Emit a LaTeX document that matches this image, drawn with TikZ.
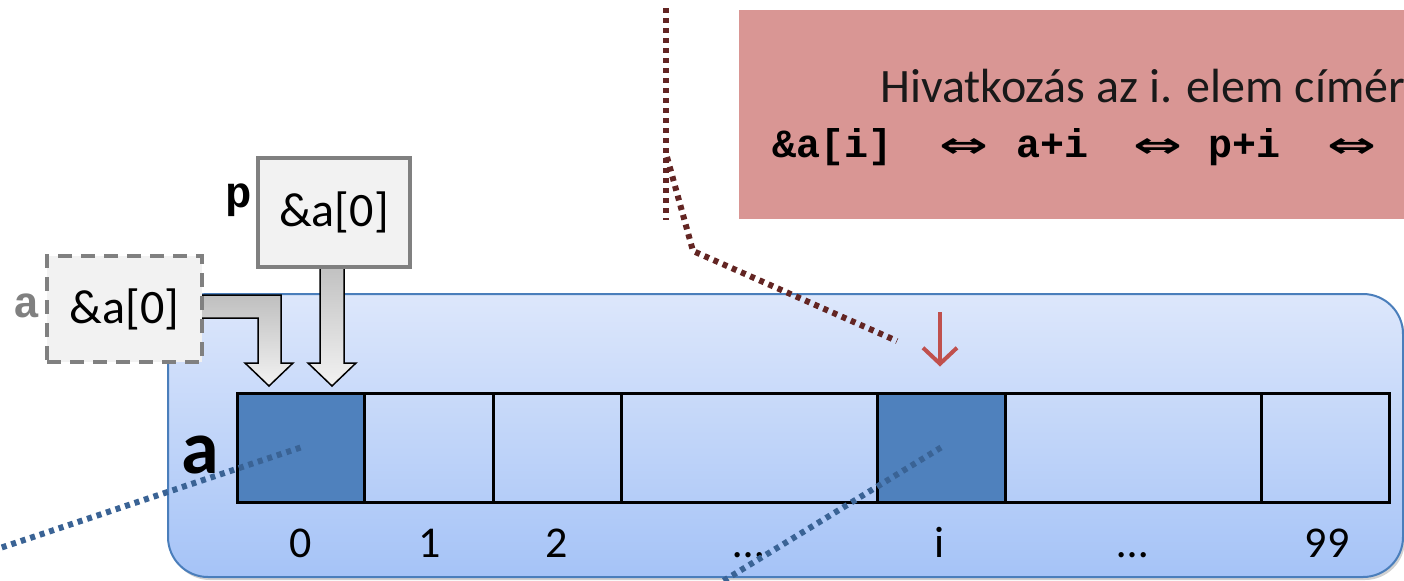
\documentclass[tikz,border=0pt]{standalone}
\usepackage{fontspec}
\usepackage{graphicx}
\setmainfont{Carlito}
\newfontfamily\lmono{Liberation Mono}
\newfontfamily\djv{DejaVu Sans}
\usetikzlibrary{arrows.meta,shadows,calc}
\definecolor{cellblue}{HTML}{4F81BD}
\definecolor{rectborder}{HTML}{4A7EBB}
\definecolor{recttop}{HTML}{DDE7FB}
\definecolor{rectbot}{HTML}{A5C3F7}
\definecolor{pinkbox}{HTML}{D99694}
\definecolor{darkred}{HTML}{632523}
\definecolor{dotblue}{HTML}{3A6395}
\definecolor{arrred}{HTML}{C0504D}
\definecolor{boxgray}{HTML}{808080}
\definecolor{boxfill}{HTML}{F2F2F2}
\newcommand\eqvsym{\resizebox{24.5pt}{9.5pt}{\djv\bfseries ⇔}}
\begin{document}
\begin{tikzpicture}[x=0.5pt,y=-0.5pt,
  cellbox/.style={draw=black, line width=1.5pt, minimum height=54.5pt, inner sep=0pt},
  idx/.style={anchor=base, inner sep=0pt, font=\fontsize{22}{26}\selectfont},
  valbox/.style={fill=boxfill, line width=2pt, inner sep=0pt, font=\fontsize{24}{28}\selectfont},
  monolab/.style={anchor=base, inner sep=0pt, font=\fontsize{22}{24}\selectfont\lmono\bfseries},
  blockarrow/.style={draw=black, line width=0.75pt, top color=gray!50, bottom color=gray!10, line join=miter},
  rdot/.style={draw=darkred, line width=3pt, dash pattern=on 2.5pt off 2.5pt},
  bdot/.style={draw=dotblue, line width=3pt, dash pattern=on 2.5pt off 2.5pt},
]
\useasboundingbox (0,0) rectangle (1404,580);

% pink note box
\node[fill=pinkbox, minimum width=340pt, minimum height=104.5pt, anchor=north west, inner sep=0pt] (note) at (739,10) {};
\node[anchor=base west, inner sep=0pt, font=\fontsize{24}{28}\selectfont, text=black!90] (l1) at (880,102) {Hivatkozás az i. elem címére};
\node[anchor=base west, inner sep=0pt, font=\fontsize{20}{24}\selectfont] (l2) at (772,157)
  {{\lmono\bfseries \&a[i]}\hspace{23.5pt}\eqvsym\hspace{14pt}{\lmono\bfseries a+i}\hspace{22.5pt}\eqvsym\hspace{13pt}{\lmono\bfseries p+i}\hspace{23.5pt}\eqvsym};

% memory area
\draw[rounded corners=20pt, top color=recttop, bottom color=rectbot, draw=rectborder, line width=1pt,
      drop shadow={shadow xshift=1pt, shadow yshift=-1.5pt, opacity=0.3, fill=black!60}]
  (168,294) rectangle (1403,577);

% cells
\node[cellbox, fill=cellblue, minimum width=63.5pt] (c0) at (300.5,447.5) {};
\node[cellbox, minimum width=64.5pt] (c1) at (428.5,447.5) {};
\node[cellbox, minimum width=64pt] (c2) at (557,447.5) {};
\node[cellbox, minimum width=128pt] (c3) at (749,447.5) {};
\node[cellbox, fill=cellblue, minimum width=64pt] (ci) at (941,447.5) {};
\node[cellbox, minimum width=128pt] (c5) at (1133,447.5) {};
\node[cellbox, minimum width=64pt] (c99) at (1325,447.5) {};

% indices
\node[idx] (i0) at (301,557) {0};
\node[idx] (i1) at (430,557) {1};
\node[idx] (i2) at (557,557) {2};
\node[idx] (i3) at (749,557) {…};
\node[idx] (ii) at (940,557) {i};
\node[idx] (i5) at (1133,557) {…};
\node[idx] (i99) at (1327,557) {99};

\node[anchor=base, inner sep=0pt, font=\fontsize{38}{42}\selectfont\bfseries] (abig) at (200,473) {a};

% block arrows
\draw[blockarrow] (320,262) -- (320,363) -- (308,363) -- (332,386) -- (356,363) -- (344,363) -- (344,262) -- cycle;
\draw[blockarrow] (198,295) -- (281,295) -- (281,363) -- (293,363) -- (269,386) -- (245,363) -- (258,363) -- (258,318) -- (198,318) -- cycle;

% value boxes
\node[valbox, draw=boxgray, minimum width=76pt, minimum height=54.5pt] (pbox) at (334,212.5) {\&a[0]};
\node[valbox, draw=boxgray, dash pattern=on 7pt off 4.5pt, minimum width=77.5pt, minimum height=53pt] (abox) at (124.5,309) {\&a[0]};
\node[monolab] (plab) at (239,207) {p};
\node[monolab, text=boxgray] (alab) at (27,317) {a};

% red arrow
\coordinate (rtop) at (940,312);
\draw[arrred, line width=2pt, -{Straight Barb[length=8pt,width=17pt]}, shorten >=12.5pt] (rtop) -- (rtop |- ci.north);

% dotted lines
\coordinate (rd0) at (666,8);
\coordinate (rd1) at (666,220);
\coordinate (rd2) at (667,157);
\coordinate (rd3) at (693,251);
\coordinate (rd4) at (897,341);
\draw[rdot] (rd0) -- (rd1);
\draw[rdot] (rd2) -- (rd3) -- (rd4);
\coordinate (bd0) at (-10,551.4);
\coordinate (bd1) at (721.5,582);
\draw[bdot] (c0.center) -- (bd0);
\draw[bdot] (ci.center) -- (bd1);
\end{tikzpicture}
\end{document}
